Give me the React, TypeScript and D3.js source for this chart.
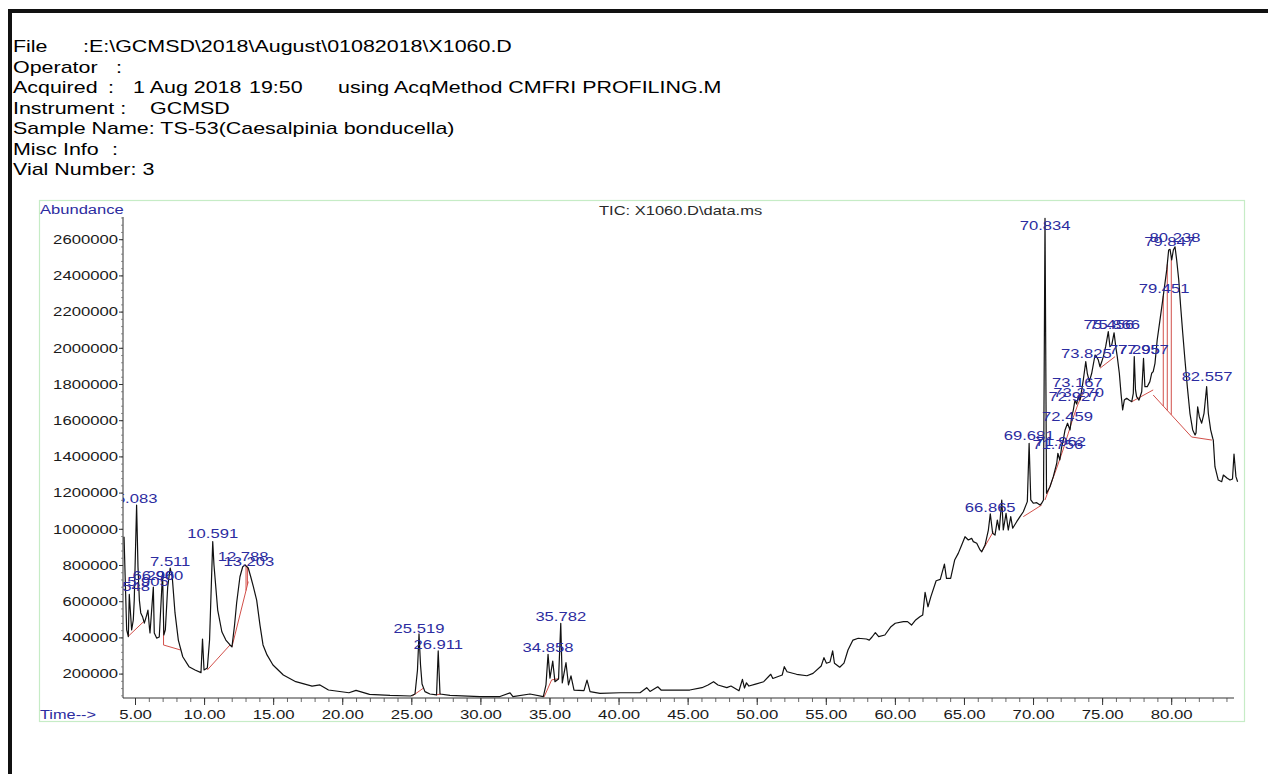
import React from 'react';
import * as d3 from 'd3';

// ---------- DATA ----------
const TIMES = [
  4.17, 4.36, 4.48, 4.55, 4.72, 4.84, 4.91, 5.08, 5.18, 5.28, 5.38, 5.52, 5.64, 5.81, 5.90, 6.01, 6.05, 6.29, 6.36, 6.53,
  6.72, 6.96, 7.05, 7.16, 7.33, 7.51, 7.66, 7.86, 8.10, 8.42, 8.87, 9.31, 9.74, 9.85, 9.96, 10.20, 10.36, 10.50, 10.59, 10.68,
  10.95, 11.25, 11.54, 11.84, 11.98, 12.17, 12.32, 12.56, 12.76, 12.93, 13.16, 13.34, 13.53, 13.77, 14.01, 14.23, 14.52, 14.95, 15.70, 16.60,
  17.78, 18.35, 18.97, 20.45, 20.96, 21.94, 23.42, 24.92, 25.23, 25.41, 25.52, 25.63, 25.74, 25.95, 26.31, 26.79, 26.91, 27.04, 27.76, 29.93,
  31.38, 32.11, 32.32, 33.55, 34.52, 34.71, 34.86, 35.00, 35.20, 35.36, 35.62, 35.78, 35.89, 36.16, 36.34, 36.52, 36.74, 37.46, 37.68, 37.90,
  38.62, 40.07, 41.52, 42.00, 42.24, 42.80, 43.04, 43.93, 45.12, 46.00, 46.44, 46.84, 47.16, 47.80, 48.10, 48.68, 48.93, 49.08, 49.22, 49.40,
  49.88, 50.47, 50.98, 51.13, 51.81, 51.96, 52.16, 52.85, 53.60, 54.04, 54.63, 54.83, 55.01, 55.27, 55.46, 55.59, 55.97, 56.28, 56.57, 56.93,
  57.31, 57.90, 58.11, 58.31, 58.55, 58.79, 59.24, 59.68, 59.99, 60.58, 60.88, 61.17, 61.47, 61.77, 61.98, 62.15, 62.36, 62.57, 62.95, 63.25,
  63.55, 63.70, 64.00, 64.29, 64.55, 64.80, 65.04, 65.28, 65.52, 65.64, 65.89, 66.13, 66.25, 66.49, 66.73, 66.87, 67.04, 67.21, 67.38, 67.52,
  67.70, 67.81, 68.01, 68.17, 68.35, 68.49, 68.78, 69.02, 69.26, 69.55, 69.68, 69.80, 69.98, 70.23, 70.47, 70.59, 70.72, 70.83, 70.94, 71.19,
  71.43, 71.68, 71.76, 71.90, 72.04, 72.15, 72.28, 72.46, 72.64, 72.76, 72.88, 73.00, 73.12, 73.24, 73.36, 73.49, 73.60, 73.78, 73.89, 74.04,
  74.21, 74.45, 74.57, 74.69, 74.81, 74.93, 75.05, 75.22, 75.41, 75.53, 75.66, 75.83, 75.95, 76.06, 76.21, 76.33, 76.45, 76.57, 76.74, 76.91,
  77.11, 77.22, 77.29, 77.38, 77.46, 77.63, 77.83, 77.96, 78.06, 78.23, 78.42, 78.55, 78.66, 78.79, 78.95, 79.15, 79.35, 79.51, 79.64, 79.78,
  79.88, 80.00, 80.12, 80.24, 80.36, 80.51, 80.65, 80.80, 80.96, 81.13, 81.32, 81.52, 81.69, 81.76, 81.88, 82.00, 82.17, 82.34, 82.53, 82.65,
  82.82, 82.97, 83.01, 83.13, 83.37, 83.62, 83.74, 84.00, 84.22, 84.40, 84.51, 84.65, 84.77,
];

const ABUNDANCE = [
  959000, 444000, 407000, 640000, 444000, 499000, 609000, 1134000, 792000, 609000, 538000, 515000, 482000, 526000, 554000, 455000, 427000, 681000, 427000, 399000,
  405000, 759000, 416000, 444000, 681000, 786000, 736000, 538000, 388000, 296000, 241000, 223000, 208000, 394000, 223000, 234000, 388000, 720000, 932000, 803000,
  554000, 434000, 388000, 361000, 350000, 471000, 593000, 738000, 793000, 803000, 786000, 738000, 683000, 609000, 471000, 361000, 306000, 250000, 195000, 158000,
  134000, 140000, 112000, 97000, 110000, 88000, 82000, 79000, 90000, 223000, 422000, 250000, 145000, 103000, 90000, 85000, 328000, 90000, 82000, 76000,
  76000, 96000, 76000, 90000, 76000, 140000, 309000, 178000, 272000, 158000, 173000, 481000, 151000, 263000, 140000, 190000, 112000, 109000, 167000, 103000,
  94000, 97000, 97000, 125000, 104000, 130000, 112000, 112000, 112000, 125000, 140000, 158000, 140000, 125000, 134000, 108000, 171000, 123000, 152000, 134000,
  145000, 158000, 199000, 176000, 195000, 241000, 213000, 199000, 191000, 204000, 245000, 291000, 260000, 267000, 328000, 260000, 238000, 261000, 333000, 388000,
  398000, 394000, 388000, 405000, 429000, 407000, 416000, 462000, 481000, 490000, 490000, 471000, 499000, 517000, 527000, 652000, 572000, 628000, 716000, 723000,
  808000, 729000, 729000, 830000, 867000, 913000, 959000, 941000, 950000, 932000, 923000, 886000, 876000, 913000, 996000, 1085000, 978000, 968000, 1051000, 996000,
  1162000, 996000, 1088000, 996000, 1070000, 1006000, 1042000, 1070000, 1097000, 1153000, 1475000, 1162000, 1144000, 1147000, 1134000, 1144000, 1162000, 2718000, 1199000, 1235000,
  1291000, 1365000, 1420000, 1383000, 1456000, 1493000, 1549000, 1586000, 1549000, 1622000, 1659000, 1714000, 1692000, 1733000, 1714000, 1770000, 1825000, 1926000, 1862000, 1816000,
  1862000, 1963000, 1952000, 1935000, 1898000, 1924000, 1954000, 2009000, 2092000, 2009000, 2018000, 2086000, 2009000, 1954000, 1862000, 1751000, 1659000, 1714000, 1724000, 1714000,
  1705000, 1751000, 1954000, 1770000, 1733000, 1714000, 1760000, 1945000, 1788000, 1788000, 1816000, 1862000, 1871000, 1917000, 2046000, 2156000, 2267000, 2359000, 2433000, 2543000,
  2547000, 2488000, 2543000, 2561000, 2488000, 2378000, 2230000, 2083000, 1935000, 1788000, 1641000, 1549000, 1521000, 1532000, 1677000, 1622000, 1586000, 1641000, 1788000, 1641000,
  1549000, 1503000, 1493000, 1346000, 1272000, 1263000, 1300000, 1283000, 1272000, 1278000, 1416000, 1291000, 1263000,
];

const PEAK_LABELS = [
  '4.548', '5.083', '5.905', '6.290', '6.960', '7.511', '10.591', '12.788', '13.203', '25.519', '26.911', '34.858', '35.782',
  '66.865', '69.681', '70.834', '71.756', '71.962', '72.459', '72.927', '73.167', '73.270', '73.825', '75.456', '75.866',
  '77.295', '77.957', '79.451', '79.847', '80.238', '82.557',
];
const PEAK_LABEL_LEVEL = [
  659000, 1145000, 687000, 720000, 720000, 798000, 951000, 825000, 798000, 427000, 339000, 322000, 494000,
  1096000, 1493000, 2654000, 1441000, 1460000, 1598000, 1709000, 1786000, 1731000, 1944000, 2104000, 2104000,
  1966000, 1966000, 2307000, 2565000, 2587000, 1822000,
];

// integration baselines: [t1, v1, t2, v2]
const BASELINES: [number, number, number, number][] = [
  [4.45, 407000, 5.59, 490000],
  [7.02, 361000, 8.27, 333000],
  [10.2, 223000, 11.84, 361000],
  [11.98, 350000, 13.16, 711000],
  [25.04, 79000, 25.83, 122000],
  [26.75, 85000, 27.11, 90000],
  [34.57, 73000, 35.12, 168000],
  [35.12, 168000, 35.65, 175000],
  [66.25, 876000, 67.09, 987000],
  [69.26, 1070000, 70.59, 1134000],
  [70.83, 1162000, 71.68, 1339000],
  [71.68, 1339000, 72.13, 1438000],
  [72.13, 1438000, 72.5, 1527000],
  [72.5, 1527000, 72.86, 1615000],
  [72.86, 1615000, 73.22, 1692000],
  [73.22, 1692000, 73.58, 1753000],
  [74.81, 1890000, 75.9, 1954000],
  [77.11, 1705000, 78.66, 1770000],
  [78.66, 1742000, 81.44, 1510000],
  [81.44, 1510000, 82.91, 1493000],
];
const DROP_TIMES = [7.03, 13.0, 13.1, 79.39, 79.68, 79.97];

const Y_TICKS = [200000, 400000, 600000, 800000, 1000000, 1200000, 1400000, 1600000, 1800000, 2000000, 2200000, 2400000, 2600000];
const X_TICKS = [5, 10, 15, 20, 25, 30, 35, 40, 45, 50, 55, 60, 65, 70, 75, 80];

const HEADER: [number, string][][] = [
  [[13, 'File'], [83, ':E:\\GCMSD\\2018\\August\\01082018\\X1060.D']],
  [[13, 'Operator'], [116, ':']],
  [[13, 'Acquired'], [108, ':'], [133, '1 Aug 2018'], [249, '19:50'], [338, 'using AcqMethod CMFRI PROFILING.M']],
  [[13, 'Instrument :'], [150, 'GCMSD']],
  [[13, 'Sample Name: TS-53(Caesalpinia bonducella)']],
  [[13, 'Misc Info'], [112, ':']],
  [[13, 'Vial Number: 3']],
];

// ---------- LAYOUT ----------
const FONT = '"Liberation Sans", Arial, Helvetica, sans-serif';
const BLUE = '#2c2ca0';
const RED = '#d2504a';
const AX_X = 123;
const AX_Y = 698;
const X_END = 1234;
const Y_TOP = 217;

const x = d3.scaleLinear().domain([5, 80]).range([135.5, 135.5 + 75 * 13.816]);
const y = d3.scaleLinear().domain([0, 2600000]).range([710.3, 710.3 - 13 * 36.2]);

function SText(props: { x: number; y: number; sx: number; size: number; anchor?: string; fill?: string; children: any }) {
  return (
    <text
      transform={`translate(${props.x},${props.y}) scale(${props.sx},1)`}
      fontSize={props.size}
      fontFamily={FONT}
      textAnchor={props.anchor || 'start'}
      fill={props.fill || '#111'}
    >
      {props.children}
    </text>
  );
}

function interpCurve(t: number) {
  const i = d3.bisectLeft(TIMES, t);
  if (i <= 0) return ABUNDANCE[0];
  if (i >= TIMES.length) return ABUNDANCE[ABUNDANCE.length - 1];
  const t0 = TIMES[i - 1], t1 = TIMES[i];
  const f = (t - t0) / (t1 - t0);
  return ABUNDANCE[i - 1] + f * (ABUNDANCE[i] - ABUNDANCE[i - 1]);
}

function baseAt(t: number) {
  for (const b of BASELINES) {
    if (t >= b[0] && t <= b[2]) return b[1] + ((t - b[0]) / (b[2] - b[0])) * (b[3] - b[1]);
  }
  return null;
}

export default function App() {
  const pts: [number, number][] = TIMES.map((t, i) => [t, ABUNDANCE[i]]);
  const line = d3.line<[number, number]>().x((d) => x(d[0])).y((d) => y(d[1]));
  const xMinor = d3.range(5, 85, 1);
  const yMinor = d3.range(80000, 2720001, 40000);

  return (
    <svg width={1268} height={774} style={{ position: 'absolute', left: 0, top: 0, background: '#fff' }}>
      <rect x={0} y={0} width={1268} height={774} fill="#fff" />
      {/* outer frame */}
      <rect x={8} y={9} width={1260} height={4} fill="#111" />
      <rect x={8} y={9} width={4} height={765} fill="#111" />

      {/* header */}
      {HEADER.map((segs, li) =>
        segs.map(([sx, txt], si) => (
          <SText key={`h${li}-${si}`} x={sx} y={52 + li * 20.5} sx={1.34} size={16} fill="#000">
            {txt}
          </SText>
        ))
      )}

      {/* green frame */}
      <rect x={39.5} y={200.5} width={1205} height={521} fill="none" stroke="#c6ecc6" strokeWidth={1.2} />

      <SText x={40} y={214} sx={1.38} size={12} fill={BLUE}>Abundance</SText>
      <SText x={599} y={214.5} sx={1.27} size={13} fill="#2a2a2a">TIC: X1060.D\data.ms</SText>
      <SText x={40} y={719} sx={1.36} size={12} fill={BLUE}>Time--&gt;</SText>

      {/* axes */}
      <line x1={AX_X} y1={Y_TOP} x2={AX_X} y2={AX_Y} stroke="#333" strokeWidth={1} />
      <line x1={AX_X} y1={AX_Y} x2={X_END} y2={AX_Y} stroke="#333" strokeWidth={1} />
      {yMinor.map((v) => (
        <line key={`ym${v}`} x1={AX_X - 2} x2={AX_X} y1={y(v)} y2={y(v)} stroke="#666" strokeWidth={0.7} />
      ))}
      {Y_TICKS.map((v) => (
        <g key={`yt${v}`}>
          <line x1={AX_X - 4} x2={AX_X} y1={y(v)} y2={y(v)} stroke="#333" strokeWidth={1} />
          <SText x={118} y={y(v) + 4.3} sx={1.39} size={12} anchor="end" fill="#1a1a1a">
            {String(v)}
          </SText>
        </g>
      ))}
      {xMinor.map((t) => (
        <line key={`xm${t}`} x1={x(t)} x2={x(t)} y1={AX_Y} y2={AX_Y + 4} stroke="#444" strokeWidth={0.8} />
      ))}
      {X_TICKS.map((t) => (
        <g key={`xt${t}`}>
          <line x1={x(t)} x2={x(t)} y1={AX_Y} y2={AX_Y + 7} stroke="#333" strokeWidth={1} />
          <SText x={x(t)} y={718.5} sx={1.4} size={12} anchor="middle" fill="#1a1a1a">
            {t.toFixed(2)}
          </SText>
        </g>
      ))}

      <defs>
        <clipPath id="plotclip">
          <rect x={AX_X} y={200} width={1245 - AX_X} height={AX_Y - 200} />
        </clipPath>
      </defs>

      <g clipPath="url(#plotclip)">
        {/* integration baselines */}
        {BASELINES.map((b, i) => (
          <line key={`b${i}`} x1={x(b[0])} y1={y(b[1])} x2={x(b[2])} y2={y(b[3])} stroke={RED} strokeWidth={1} />
        ))}
        {DROP_TIMES.map((t, i) => {
          const bv = baseAt(t);
          if (bv === null) return null;
          return <line key={`d${i}`} x1={x(t)} x2={x(t)} y1={y(bv)} y2={y(interpCurve(t))} stroke={RED} strokeWidth={1} />;
        })}
        {/* chromatogram */}
        <path d={line(pts) || ''} fill="none" stroke="#111" strokeWidth={1.2} strokeLinejoin="round" />
        {/* peak labels */}
        {PEAK_LABELS.map((lab, i) => (
          <SText key={`l${i}`} x={x(parseFloat(lab))} y={y(PEAK_LABEL_LEVEL[i])} sx={1.33} size={12.5} anchor="middle" fill={BLUE}>
            {lab}
          </SText>
        ))}
      </g>
    </svg>
  );
}
